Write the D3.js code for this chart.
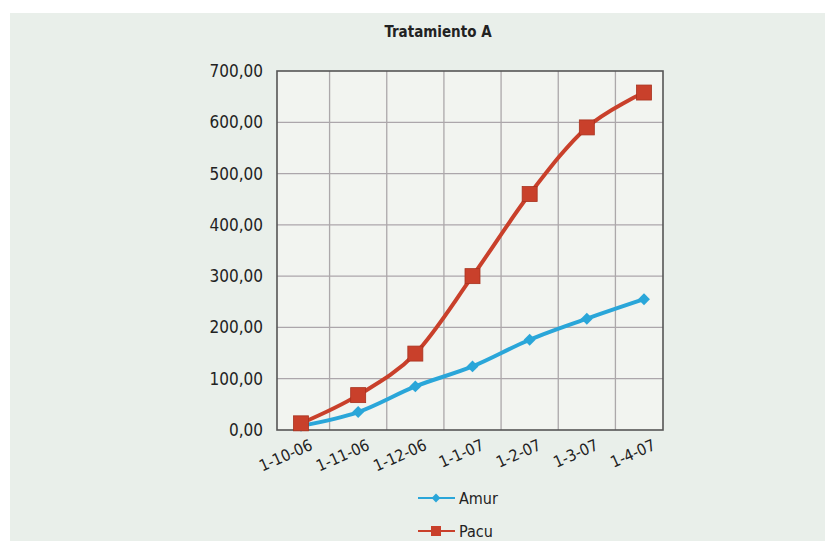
<!DOCTYPE html>
<html lang="es">
<head>
<meta charset="UTF-8">
<title>Tratamiento A</title>
<style>
  body { margin: 0; background: #fff; }
  text { font-family: "DejaVu Sans", sans-serif; font-stretch: condensed; fill: #222; }
</style>
</head>
<body>
<svg id="svg" width="825" height="541"></svg>
<script src="https://d3js.org/d3.v7.min.js"></script>
<script>
const fechas = ["1-10-06", "1-11-06", "1-12-06", "1-1-07", "1-2-07", "1-3-07", "1-4-07"]
const amur = [8, 35, 85, 124, 176, 217, 255]
const pacu = [13, 68, 149, 300, 460, 590, 658]
const yTicks = [0, 100, 200, 300, 400, 500, 600, 700]

const svg = d3.select("#svg")
const padding = { top: 71, left: 277, right: 162, bottom: 111 }
const width = +svg.attr("width")
const height = +svg.attr("height")
const innerW = width - padding.left - padding.right
const innerH = height - padding.top - padding.bottom

// fondo del papel escaneado
svg.append("rect").attr("x", 10).attr("y", 13).attr("width", width - 10).attr("height", height - 13)
  .attr("fill", "#e9efea")

svg.append("text").attr("x", 438).attr("y", 37).attr("text-anchor", "middle")
  .attr("font-size", 15).attr("font-weight", "bold").text("Tratamiento A")

const x = d3.scalePoint().domain(fechas).range([24, innerW - 19])
const step = x.step()
const y = d3.scaleLinear().domain([0, 700]).range([innerH, 0])

const g = svg.append("g").attr("transform", `translate(${padding.left},${padding.top})`)

g.append("rect").attr("width", innerW).attr("height", innerH).attr("fill", "#f2f4f0")

// rejilla horizontal
g.append("g").selectAll("line").data(yTicks.slice(1, -1)).join("line")
  .attr("x1", 0).attr("x2", innerW)
  .attr("y1", d => y(d)).attr("y2", d => y(d))
  .attr("stroke", "#aca6ab").attr("stroke-width", 1.3)

// rejilla vertical (entre categorias)
g.append("g").selectAll("line").data(fechas.slice(1)).join("line")
  .attr("x1", d => x(d) - step / 2).attr("x2", d => x(d) - step / 2)
  .attr("y1", 0).attr("y2", innerH)
  .attr("stroke", "#aca8aa").attr("stroke-width", 1.3)

g.append("rect").attr("width", innerW).attr("height", innerH)
  .attr("fill", "none").attr("stroke", "#555").attr("stroke-width", 1.6)

const yAxis = d3.axisLeft(y).tickValues(yTicks).tickSize(0).tickPadding(14)
  .tickFormat(d => d3.format(".2f")(d).replace(".", ","))
g.append("g").call(yAxis).call(a => a.select(".domain").remove())
  .selectAll("text").attr("font-size", 17).attr("fill", "#222")

const xAxis = d3.axisBottom(x).tickSize(0).tickPadding(0)
g.append("g").attr("transform", `translate(0,${innerH})`).call(xAxis)
  .call(a => a.select(".domain").remove())
  .selectAll("text")
  .attr("font-size", 16).attr("fill", "#222")
  .attr("text-anchor", "end")
  .attr("dy", 0)
  .attr("transform", "translate(12,19) rotate(-24)")

const line = d3.line().x((d, i) => x(fechas[i])).y(d => y(d)).curve(d3.curveCatmullRom.alpha(0))

const azul = "#2aa6d9"
const rojo = "#c9402b"

g.append("path").datum(amur).attr("d", line).attr("fill", "none")
  .attr("stroke", azul).attr("stroke-width", 4)
g.append("path").datum(pacu).attr("d", line).attr("fill", "none")
  .attr("stroke", rojo).attr("stroke-width", 4)

g.append("g").selectAll("path").data(amur).join("path")
  .attr("d", d3.symbol(d3.symbolDiamond2, 90))
  .attr("transform", (d, i) => `translate(${x(fechas[i])},${y(d)})`)
  .attr("fill", azul)

g.append("g").selectAll("rect").data(pacu).join("rect")
  .attr("x", (d, i) => x(fechas[i]) - 7.5)
  .attr("y", d => y(d) - 7.5)
  .attr("width", 15).attr("height", 15)
  .attr("fill", rojo).attr("stroke", "#a8321f").attr("stroke-width", 0.8)

// leyenda
const series = [
  { name: "Amur", color: azul },
  { name: "Pacu", color: rojo }
]
const leg = svg.append("g").attr("transform", "translate(418,498)")
series.forEach((s, i) => {
  const row = leg.append("g").attr("transform", `translate(0,${i * 33})`)
  row.append("line").attr("x1", 0).attr("x2", 37).attr("stroke", s.color).attr("stroke-width", 2)
  if (i === 0) {
    row.append("path").attr("d", d3.symbol(d3.symbolDiamond2, 50)).attr("transform", "translate(18,0)").attr("fill", s.color)
  } else {
    row.append("rect").attr("x", 13).attr("y", -5).attr("width", 10).attr("height", 10).attr("fill", s.color)
  }
  row.append("text").attr("x", 41).attr("y", 6).attr("font-size", 16).text(s.name)
})
</script>
</body>
</html>
